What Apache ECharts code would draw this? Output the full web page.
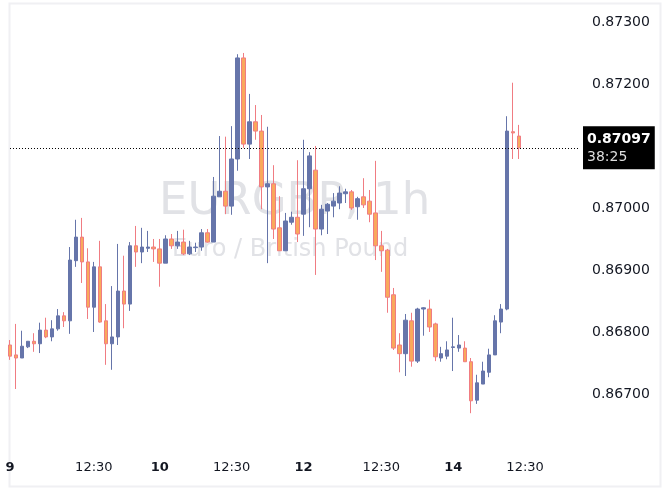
<!DOCTYPE html>
<html><head><meta charset="utf-8">
<script src="https://cdn.jsdelivr.net/npm/echarts@6/dist/echarts.min.js"></script>
<style>html,body{margin:0;padding:0;background:#fff}#c{width:670px;height:501px}</style>
</head><body><div id="c"></div>
<script>
// OHLC, one array per field (index = hourly candle)
const opens = [0.86779,0.86763,0.86758,0.86776,0.86785,0.86781,0.86803,0.86792,0.86805,0.86826,
0.86818,0.86915,0.86953,0.86913,0.86840,0.86905,0.86818,0.86781,0.86792,0.86866,
0.86845,0.86939,0.86929,0.86935,0.86937,0.86934,0.86911,0.86950,0.86939,0.86945,
0.86926,0.86936,0.86937,0.86960,0.86945,0.87018,0.87027,0.87003,0.87079,0.87242,
0.87103,0.87139,0.87124,0.87034,0.87039,0.86968,0.86931,0.86977,0.86985,0.86990,
0.87031,0.87061,0.86966,0.86995,0.87003,0.87008,0.87023,0.87026,0.87002,0.87018,
0.87011,0.86992,0.86939,0.86932,0.86860,0.86779,0.86765,0.86818,0.86753,0.86837,
0.86837,0.86813,0.86758,0.86761,0.86775,0.86774,0.86774,0.86752,0.86690,0.86716,
0.86735,0.86763,0.86816,0.86837,0.87123,0.87116];
const closes = [0.86761,0.86758,0.86777,0.86785,0.86781,0.86803,0.86792,0.86805,0.86826,0.86818,
0.86916,0.86953,0.86913,0.86840,0.86905,0.86816,0.86781,0.86792,0.86866,0.86845,
0.86939,0.86929,0.86937,0.86937,0.86934,0.86911,0.86950,0.86939,0.86945,0.86926,
0.86937,0.86937,0.86960,0.86945,0.87019,0.87027,0.87003,0.87079,0.87242,0.87103,
0.87139,0.87124,0.87034,0.87039,0.86966,0.86931,0.86979,0.86985,0.86958,0.87031,
0.87084,0.86966,0.86998,0.87006,0.87011,0.87024,0.87026,0.87000,0.87015,0.87005,
0.86990,0.86939,0.86931,0.86856,0.86774,0.86765,0.86819,0.86753,0.86837,0.86839,
0.86808,0.86760,0.86765,0.86771,0.86776,0.86779,0.86752,0.86689,0.86718,0.86737,
0.86763,0.86818,0.86837,0.87124,0.87121,0.87097];
const lows = [0.86755,0.86708,0.86758,0.86774,0.86768,0.86766,0.86790,0.86785,0.86802,0.86808,
0.86797,0.86905,0.86879,0.86821,0.86800,0.86815,0.86747,0.86739,0.86779,0.86806,
0.86834,0.86905,0.86911,0.86929,0.86913,0.86873,0.86911,0.86934,0.86934,0.86924,
0.86924,0.86929,0.86931,0.86944,0.86945,0.87018,0.86990,0.86989,0.87060,0.87097,
0.87079,0.87110,0.86998,0.86911,0.86950,0.86931,0.86931,0.86973,0.86945,0.86955,
0.86969,0.86892,0.86956,0.86958,0.86985,0.86998,0.87008,0.86997,0.86981,0.87000,
0.86977,0.86916,0.86897,0.86831,0.86771,0.86735,0.86729,0.86744,0.86750,0.86794,
0.86800,0.86753,0.86752,0.86756,0.86737,0.86768,0.86752,0.86669,0.86684,0.86716,
0.86727,0.86763,0.86798,0.86835,0.87079,0.87079];
const highs = [0.86787,0.86813,0.86802,0.86785,0.86798,0.86815,0.86823,0.86819,0.86837,0.86832,
0.86937,0.86981,0.86984,0.86935,0.86913,0.86947,0.86845,0.86874,0.86942,0.86923,
0.86945,0.86971,0.86968,0.86963,0.86950,0.86950,0.86956,0.86958,0.86963,0.86965,
0.86947,0.86944,0.86966,0.86966,0.87050,0.87116,0.87115,0.87132,0.87248,0.87250,
0.87184,0.87166,0.87150,0.87131,0.87069,0.87019,0.86992,0.86994,0.87077,0.87110,
0.87090,0.87100,0.87005,0.87008,0.87024,0.87035,0.87031,0.87029,0.87018,0.87048,
0.87029,0.87076,0.86963,0.86934,0.86871,0.86798,0.86829,0.86831,0.86839,0.86840,
0.86852,0.86815,0.86776,0.86785,0.86823,0.86795,0.86785,0.86758,0.86731,0.86752,
0.86773,0.86827,0.86845,0.87148,0.87202,0.87134];
const tickIndex = [0,14,25,37,49,62,74,86];
const tickLabels = ['9','12:30','10','12:30','12','12:30','14','12:30'];
const yTicks = [0.867,0.868,0.869,0.870,0.871,0.872,0.873];
const lastPrice = 0.87097;
const countdown = '38:25';
const totalSlots = 96;

const cats = [];
for (let i = 0; i < totalSlots; i++) cats.push(String(i));
const ohlc = opens.map((o, i) => [o, closes[i], lows[i], highs[i]]);
const UP = '#6675aa', DOWN = '#f9a95c', DOWNB = '#f07c82';
const FONT = "'DejaVu Sans', 'Noto Sans', sans-serif";

const chart = echarts.init(document.getElementById('c'), null, {renderer: 'canvas'});
chart.setOption({
  animation: false,
  backgroundColor: '#fff',
  graphic: [
    {type: 'rect', shape: {x: 9.5, y: 3.5, width: 651, height: 483}, style: {fill: 'none', stroke: '#f0f0f3', lineWidth: 2}, z: -10},
    {type: 'text', left: 159, top: 180, style: {text: 'EURGBP, 1h', fill: '#e1e2e6', font: "45px " + FONT}, z: -5},
    {type: 'text', left: 172, top: 238, style: {text: 'Euro / British Pound', fill: '#e1e2e6', font: "24px " + FONT}, z: -5}
  ],
  grid: {left: 7, right: 88, top: 3, bottom: 56},
  xAxis: {
    type: 'category', data: cats, boundaryGap: true,
    axisLine: {show: false}, axisTick: {show: false}, splitLine: {show: false},
    axisLabel: {
      interval: 0, hideOverlap: false, margin: 16,
      formatter: (v, i) => { const k = tickIndex.indexOf(i); return k < 0 ? '' : (/:/.test(tickLabels[k]) ? tickLabels[k] : '{b|' + tickLabels[k] + '}'); },
      color: '#131722', fontSize: 13, fontFamily: FONT,
      rich: {b: {fontWeight: 'bold', fontSize: 13, color: '#131722', fontFamily: FONT}}
    }
  },
  yAxis: {
    type: 'value', position: 'right', scale: true,
    min: 0.866177, max: 0.873306,
    axisLine: {show: false}, axisTick: {show: false}, splitLine: {show: false},
    axisLabel: {customValues: yTicks, formatter: v => v.toFixed(5), color: '#131722', fontSize: 14, fontFamily: FONT, margin: 10}
  },
  series: [{
    type: 'candlestick', data: ohlc, barWidth: 4,
    itemStyle: {color: UP, color0: DOWN, borderColor: UP, borderColor0: DOWNB, borderWidth: 1},
    markLine: {
      symbol: 'none', silent: true,
      lineStyle: {type: [1, 2], color: '#000', width: 1},
      data: [[{coord: [cats[0], lastPrice]}, {coord: [cats[totalSlots - 1], lastPrice]}]],
      label: {
        position: 'end', distance: 4,
        formatter: () => lastPrice.toFixed(5) + '\n{t|' + countdown + '}',
        backgroundColor: '#000', color: '#fff', fontWeight: 'bold', fontSize: 14, fontFamily: FONT,
        padding: [4, 4, 3, 4], lineHeight: 18, align: 'left',
        rich: {t: {color: '#ddd', fontSize: 14, fontWeight: 'normal', fontFamily: FONT}}
      }
    }
  }]
});
</script></body></html>
